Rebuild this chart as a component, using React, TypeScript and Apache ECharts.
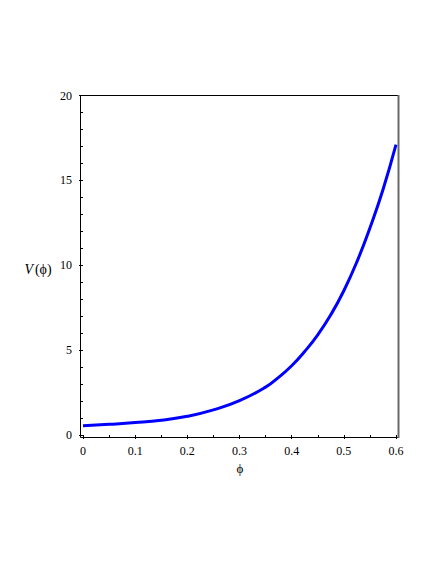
import React, { useEffect, useRef } from "react";
import * as echarts from "echarts";

const phiValues = [0, 0.05, 0.1, 0.15, 0.2, 0.25, 0.3, 0.35, 0.375, 0.4, 0.425, 0.45, 0.475, 0.5, 0.525, 0.55, 0.575, 0.6];
const vValues = [0.55, 0.63, 0.73, 0.87, 1.1, 1.48, 2.02, 2.82, 3.4, 4.08, 4.92, 5.9, 7.08, 8.5, 10.2, 12.2, 14.45, 17.1];
const xTitle = "ϕ";
const yTitleMain = "V";
const yTitleArg = "(ϕ)";

const FONT = "Liberation Serif";

export default function App() {
  const ref = useRef<HTMLDivElement>(null);
  useEffect(() => {
    if (!ref.current) return;
    const chart = echarts.init(ref.current, null, { renderer: "svg" });
    const data = phiValues.map((p, i) => [p, vValues[i]]);
    chart.setOption({
      animation: false,
      backgroundColor: "#ffffff",
      textStyle: { fontFamily: FONT },
      grid: { left: 83, right: 40, top: 95.5, bottom: 129 },
      xAxis: {
        type: "value",
        min: 0,
        max: 0.6,
        interval: 0.1,
        offset: 3,
        axisLine: { show: false },
        axisTick: { show: true, length: 4, lineStyle: { color: "#000" } },
        minorTick: { show: true, splitNumber: 2, length: 3, lineStyle: { color: "#000" } },
        splitLine: { show: false },
        axisLabel: {
          margin: 7,
          color: "#000",
          fontFamily: FONT,
          fontSize: 12,
          formatter: (v: number) => String(parseFloat(v.toFixed(1))),
        },
      },
      yAxis: {
        type: "value",
        min: 0,
        max: 20,
        interval: 5,
        offset: 3,
        axisLine: { show: false },
        axisTick: { show: true, length: 4, lineStyle: { color: "#000" } },
        minorTick: { show: true, splitNumber: 5, length: 3, lineStyle: { color: "#000" } },
        splitLine: { show: false },
        axisLabel: {
          margin: 8,
          color: "#000",
          fontFamily: FONT,
          fontSize: 12,
        },
      },
      series: [
        {
          type: "line",
          data,
          smooth: 0.5,
          showSymbol: false,
          lineStyle: { color: "#0000ff", width: 3 },
          clip: false,
        },
      ],
      graphic: [
        {
          type: "rect",
          shape: { x: 80.5, y: 95.5, width: 318, height: 342 },
          style: { fill: "none", stroke: "#000", lineWidth: 1 },
          silent: true,
        },
        {
          type: "line",
          shape: { x1: 398.5, y1: 95, x2: 398.5, y2: 438 },
          style: { stroke: "#6a6a6a", lineWidth: 2 },
          silent: true,
        },
        {
          type: "text",
          x: 240,
          y: 468,
          style: {
            text: xTitle,
            font: "13px Liberation Serif",
            fill: "#000",
            align: "center",
            verticalAlign: "middle",
          },
        },
        {
          type: "text",
          x: 38,
          y: 269,
          style: {
            text: "{v|" + yTitleMain + "}{a|" + yTitleArg + "}",
            font: "14px Liberation Serif",
            fill: "#000",
            align: "center",
            verticalAlign: "middle",
            rich: {
              v: { fontFamily: FONT, fontSize: 14, fontStyle: "italic", fill: "#000", padding: [0, 2, 0, 0] },
              a: { fontFamily: FONT, fontSize: 14, fill: "#000" },
            },
          },
        },
      ],
    });
    return () => chart.dispose();
  }, []);
  return <div ref={ref} style={{ width: 436, height: 564, position: "absolute", left: 0, top: 0 }} />;
}
